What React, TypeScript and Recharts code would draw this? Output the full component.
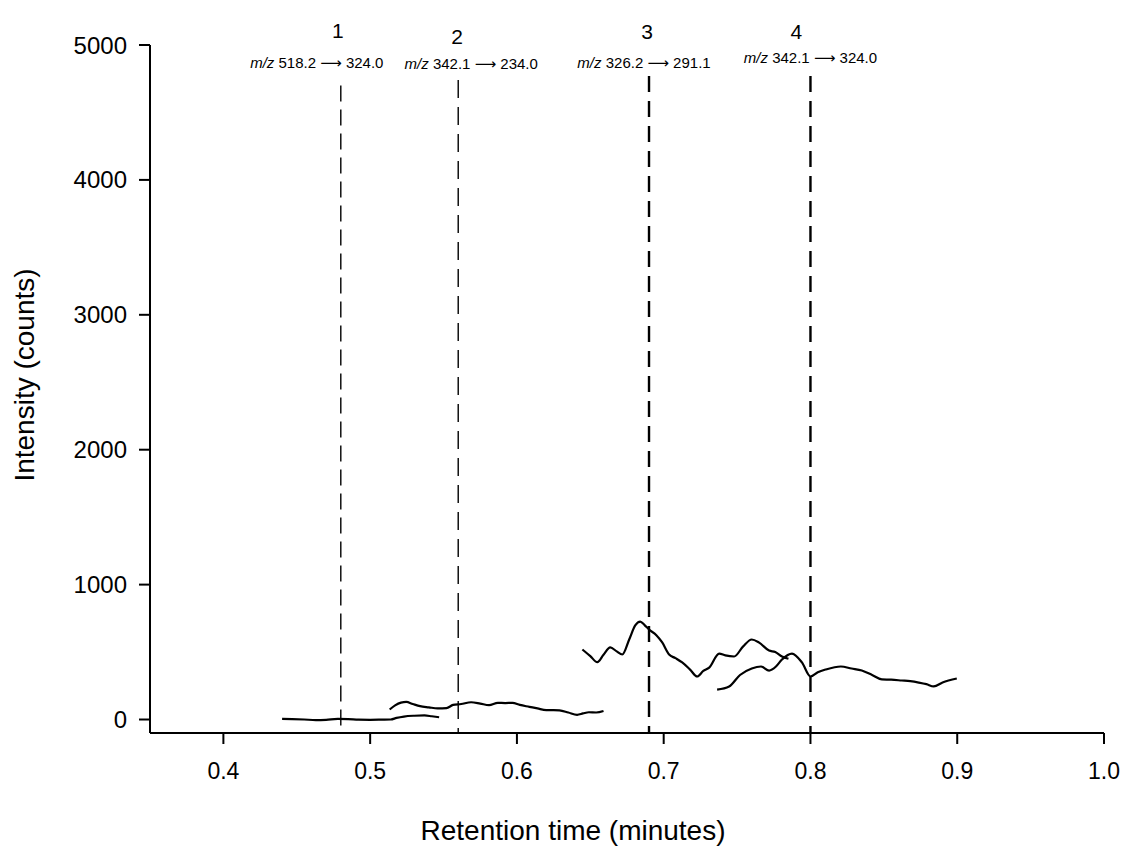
import { Line, LineChart, ReferenceLine, XAxis, YAxis } from "recharts";

// retention time (min) and intensity (counts) for each MRM trace
const trace1Time = [0.44, 0.447, 0.455, 0.463, 0.47, 0.478, 0.485, 0.492, 0.5, 0.508, 0.514, 0.518, 0.523, 0.53, 0.537, 0.542, 0.547];
const trace1Counts = [5, 3, 0, -4, -2, 4, 3, -1, -2, -1, 0, 12, 22, 28, 30, 24, 17];

const trace2Time = [0.5133, 0.517, 0.521, 0.5246, 0.529, 0.534, 0.54, 0.546, 0.552, 0.5565, 0.562, 0.5688, 0.575, 0.581, 0.587, 0.592, 0.597, 0.602, 0.6085, 0.614, 0.62, 0.625, 0.629, 0.635, 0.641, 0.645, 0.649, 0.654, 0.659];
const trace2Counts = [74, 105, 125, 130, 115, 99, 90, 82, 84, 108, 115, 128, 118, 106, 124, 122, 124, 108, 94, 82, 70, 70, 68, 52, 35, 45, 54, 52, 63];

const trace3Time = [0.6446, 0.65, 0.6548, 0.659, 0.6636, 0.668, 0.6718, 0.6765, 0.6806, 0.684, 0.687, 0.69, 0.695, 0.699, 0.7037, 0.708, 0.7126, 0.718, 0.7228, 0.727, 0.731, 0.7378, 0.742, 0.748, 0.754, 0.76, 0.765, 0.7718, 0.776, 0.7806, 0.785];
const trace3Counts = [519, 470, 425, 480, 534, 505, 482, 593, 697, 726, 700, 667, 625, 571, 482, 455, 423, 370, 319, 360, 385, 489, 475, 467, 540, 593, 570, 511, 500, 467, 450];

const trace4Time = [0.7364, 0.7446, 0.752, 0.76, 0.7663, 0.7718, 0.7765, 0.7806, 0.7874, 0.7942, 0.8, 0.805, 0.8105, 0.8207, 0.828, 0.835, 0.842, 0.8486, 0.855, 0.8622, 0.868, 0.8738, 0.879, 0.884, 0.89, 0.8997];
const trace4Counts = [222, 245, 330, 378, 393, 363, 393, 445, 489, 423, 319, 350, 371, 393, 378, 363, 330, 297, 295, 289, 284, 274, 262, 245, 275, 304];

// peak markers
const peakTimes = [0.48, 0.56, 0.69, 0.8];
const peakTops = [4700, 4740, 4770, 4770];
const peakNames = ["1", "2", "3", "4"];
const peakPrecursor = ["518.2", "342.1", "326.2", "342.1"];
const peakProduct = ["324.0", "234.0", "291.1", "324.0"];

const xTicks = [0.4, 0.5, 0.6, 0.7, 0.8, 0.9, 1.0];
const yTicks = [0, 1000, 2000, 3000, 4000, 5000];

const traces = [
  [trace1Time, trace1Counts],
  [trace2Time, trace2Counts],
  [trace3Time, trace3Counts],
  [trace4Time, trace4Counts],
].map(([t, c]) => t.map((x, i) => ({ t: x, v: c[i] })));

const font = "'Liberation Sans', Arial, sans-serif";

// label placement relative to the top of each dashed line
const labelStyle = [
  { numDx: -3, numDy: -47, ionDx: -24, ionDy: -17, width: 1.4, dash: "16 8" },
  { numDx: -1, numDy: -36, ionDx: 13, ionDy: -11, width: 1.4, dash: "18 9" },
  { numDx: -2, numDy: -37, ionDx: -5, ionDy: -8, width: 2.4, dash: "16 9" },
  { numDx: -14, numDy: -37, ionDx: 0, ionDy: -13, width: 2.4, dash: "16 9" },
];

const PeakLabel = ({ viewBox, name, pre, prod, s }: any) => {
  const x = viewBox.x;
  const y = viewBox.y;
  return (
    <g fontFamily={font} fill="#000">
      <text x={x + s.numDx} y={y + s.numDy} textAnchor="middle" fontSize={21}>
        {name}
      </text>
      <text x={x + s.ionDx} y={y + s.ionDy} textAnchor="middle" fontSize={15}>
        <tspan fontStyle="italic">m/z</tspan> {pre}{" "}
        <tspan fontFamily="'DejaVu Sans', sans-serif">⟶</tspan> {prod}
      </text>
    </g>
  );
};

const YTitle = ({ viewBox }: any) => {
  const cy = viewBox.y + viewBox.height / 2 - 14;
  return (
    <text
      x={34}
      y={cy}
      transform={`rotate(-90 34 ${cy})`}
      textAnchor="middle"
      fontSize={28}
      fontFamily={font}
      fill="#000"
    >
      Intensity (counts)
    </text>
  );
};

const XTitle = ({ viewBox }: any) => {
  const cx = viewBox.x + viewBox.width / 2 - 54;
  return (
    <text x={cx} y={viewBox.y + 107} textAnchor="middle" fontSize={28} fontFamily={font} fill="#000">
      Retention time (minutes)
    </text>
  );
};

const App = () => {
  return (
    <div style={{ position: "absolute", left: 0, top: 0, width: 1128, height: 847, background: "#fff" }}>
      <LineChart width={1128} height={847} margin={{ top: 45, right: 24, left: 0, bottom: 0 }}>
        <XAxis
          type="number"
          dataKey="t"
          domain={[0.35, 1.0]}
          ticks={xTicks}
          tickFormatter={(v) => v.toFixed(1)}
          height={114}
          tickSize={11}
          tickMargin={19}
          allowDataOverflow
          axisLine={{ stroke: "#000", strokeWidth: 2 }}
          tickLine={{ stroke: "#000", strokeWidth: 2 }}
          tick={{ fill: "#000", fontSize: 23, fontFamily: font }}
          label={<XTitle />}
        />
        <YAxis
          type="number"
          domain={[-100, 5000]}
          ticks={yTicks}
          width={150}
          tickSize={11}
          tickMargin={12}
          allowDataOverflow
          axisLine={{ stroke: "#000", strokeWidth: 2 }}
          tickLine={{ stroke: "#000", strokeWidth: 2 }}
          tick={{ fill: "#000", fontSize: 24, fontFamily: font }}
          label={<YTitle />}
        />
        {peakTimes.map((p, i) => (
          <ReferenceLine
            key={p}
            segment={[{ x: p, y: peakTops[i] }, { x: p, y: -100 }]}
            stroke="#000"
            strokeWidth={labelStyle[i].width}
            strokeDasharray={labelStyle[i].dash}
            ifOverflow="visible"
            label={<PeakLabel name={peakNames[i]} pre={peakPrecursor[i]} prod={peakProduct[i]} s={labelStyle[i]} />}
          />
        ))}
        {traces.map((d, i) => (
          <Line
            key={i}
            data={d}
            dataKey="v"
            type="monotone"
            stroke="#000"
            strokeWidth={2.2}
            dot={false}
            activeDot={false}
            isAnimationActive={false}
          />
        ))}
      </LineChart>
    </div>
  );
};

export default App;
